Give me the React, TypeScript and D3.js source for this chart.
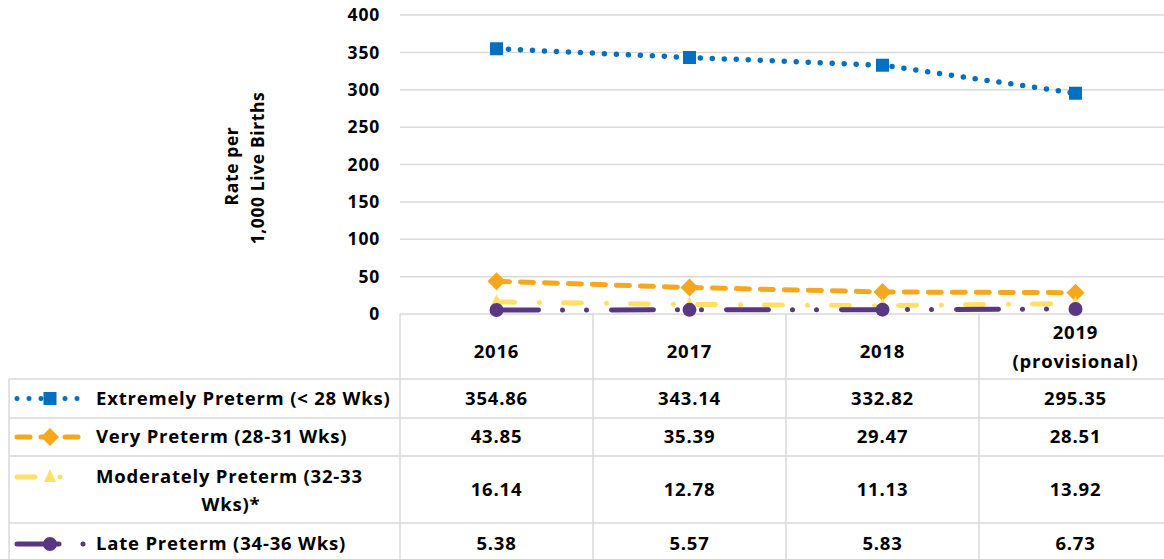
import React from "react";
import * as d3 from "d3";

const categories = ["2016", "2017", "2018", "2019"];
const categoryLabels: string[][] = [["2016"], ["2017"], ["2018"], ["2019", "(provisional)"]];
const extremely = [354.86, 343.14, 332.82, 295.35];
const very = [43.85, 35.39, 29.47, 28.51];
const moderately = [16.14, 12.78, 11.13, 13.92];
const late = [5.38, 5.57, 5.83, 6.73];
const yTicks = [0, 50, 100, 150, 200, 250, 300, 350, 400];

const seriesNames: string[][] = [
  ["Extremely Preterm (< 28 Wks)"],
  ["Very Preterm (28-31 Wks)"],
  ["Moderately Preterm (32-33", "Wks)*"],
  ["Late Preterm (34-36 Wks)"],
];
const seriesValues = [extremely, very, moderately, late];
const colors = ["#0070C0", "#F5A81C", "#FFE066", "#5A3783"];
const dashes = ["0 12", "13 11", "18 25 0 24", "42 24 0 24 0 25"];
const markers = ["square", "diamond", "triangle", "circle"];
const keyEnds = [83, 83, 84, 85];

const FONT = "'Open Sans', Lato, sans-serif";
const FS = 18.5;
const LS = 0.8;

function Marker({ type, x, y, color }: { type: string; x: number; y: number; color: string }) {
  if (type === "square") return <rect x={x - 6.5} y={y - 6.5} width={13} height={13} fill={color} />;
  if (type === "diamond")
    return <path d={`M${x},${y - 9}L${x + 9},${y}L${x},${y + 9}L${x - 9},${y}Z`} fill={color} />;
  if (type === "triangle")
    return <path d={`M${x},${y - 8}L${x + 6},${y + 5}L${x - 6},${y + 5}Z`} fill={color} />;
  return <circle cx={x} cy={y} r={7} fill={color} />;
}

export default function App() {
  const W = 1164;
  const H = 559;
  const x = d3.scaleBand<string>().domain(categories).range([400, 1172]);
  const y = d3.scaleLinear().domain([0, 400]).range([314, 15]);
  const cxOf = (i: number) => (x(categories[i]) as number) + x.bandwidth() / 2;
  const line = d3
    .line<number>()
    .x((_, i) => cxOf(i))
    .y((d) => y(d));

  const rowLines = [379, 418, 456, 523];
  const rowCenters = [398.5, 437, 489.5, 544];
  const grid = "#D9D9D9";

  return (
    <svg width={W} height={H} style={{ position: "absolute", left: 0, top: 0 }} fontFamily={FONT} fontWeight="bold" letterSpacing={LS}>
      <rect width={W} height={H} fill="#fff" />
      {yTicks.map((t) => (
        <g key={t}>
          <line x1={400} x2={W} y1={y(t)} y2={y(t)} stroke={grid} strokeWidth={1.5} />
          <text x={380} y={y(t)} dy="0.35em" textAnchor="end" fontSize={17.5} fill="#000">
            {t}
          </text>
        </g>
      ))}
      <g transform="translate(232,166) rotate(-90)">
        <text textAnchor="middle" dy="0.35em" fontSize={17.5} letterSpacing={0.6}>Rate per</text>
      </g>
      <g transform="translate(258,168) rotate(-90)">
        <text textAnchor="middle" dy="0.35em" fontSize={17.5} letterSpacing={0.6}>1,000 Live Births</text>
      </g>

      {/* table */}
      {rowLines.map((r) => (
        <line key={r} x1={9} x2={W} y1={r} y2={r} stroke={grid} strokeWidth={1.5} />
      ))}
      <line x1={9} x2={9} y1={379} y2={H} stroke={grid} strokeWidth={1.5} />
      {[400, 593, 786, 979].map((vx) => (
        <line key={vx} x1={vx} x2={vx} y1={314} y2={H} stroke={grid} strokeWidth={1.5} />
      ))}
      {categories.map((c, i) => {
        const cx = cxOf(i);
        const lbl = categoryLabels[i];
        return (
          <text key={c} x={cx} textAnchor="middle" fontSize={FS}>
            {lbl.length === 1 ? (
              <tspan x={cx} y={352} dy="0.35em">{lbl[0]}</tspan>
            ) : (
              <>
                <tspan x={cx} y={333} dy="0.35em">{lbl[0]}</tspan>
                <tspan x={cx} y={362} dy="0.35em">{lbl[1]}</tspan>
              </>
            )}
          </text>
        );
      })}
      {seriesValues.map((vals, s) =>
        vals.map((v, i) => (
          <text key={`${s}-${i}`} x={cxOf(i)} y={rowCenters[s]} dy="0.35em" textAnchor="middle" fontSize={FS}>
            {v.toFixed(2)}
          </text>
        ))
      )}
      {/* legend column */}
      {seriesNames.map((nm, s) => {
        const cy = s === 2 ? 477 : rowCenters[s];
        return (
          <g key={s}>
            <line
              x1={17}
              x2={keyEnds[s]}
              y1={cy}
              y2={cy}
              stroke={colors[s]}
              strokeWidth={5}
              strokeLinecap="round"
              strokeDasharray={dashes[s]}
            />
            <Marker type={markers[s]} x={50} y={cy} color={colors[s]} />
            <text x={96} y={cy} dy="0.35em" fontSize={FS}>{nm[0]}</text>
            {nm.length > 1 && (
              <text x={231} y={505} dy="0.35em" textAnchor="middle" fontSize={FS}>{nm[1]}</text>
            )}
          </g>
        );
      })}

      {/* series lines */}
      {seriesValues.map((vals, s) => (
        <g key={s}>
          <path
            d={line(vals) as string}
            fill="none"
            stroke={colors[s]}
            strokeWidth={s === 0 ? 5.5 : 5}
            strokeLinecap="round"
            strokeDasharray={dashes[s]}
          />
          {vals.map((v, i) => (
            <Marker key={i} type={markers[s]} x={cxOf(i)} y={y(v)} color={colors[s]} />
          ))}
        </g>
      ))}
    </svg>
  );
}
